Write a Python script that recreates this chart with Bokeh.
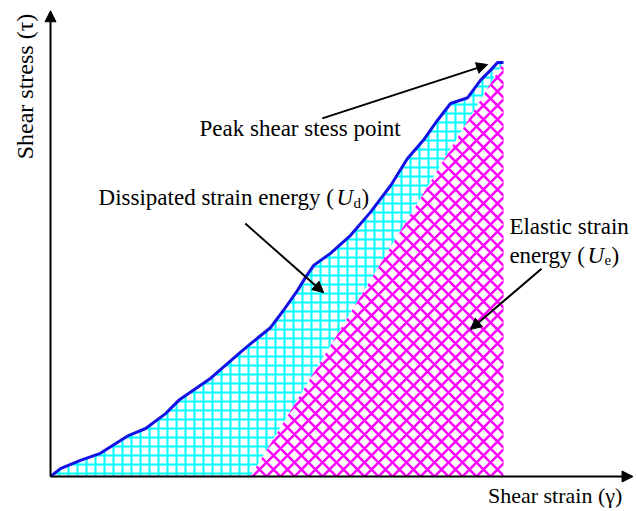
from bokeh.plotting import figure
from bokeh.models import Range1d, Label, Arrow, NormalHead
from bokeh.embed import file_html
from bokeh.resources import INLINE

# Normalised shear stress-strain curve up to the peak (strain, stress)
strain = [0.000, 0.022, 0.066, 0.110, 0.172, 0.210, 0.254, 0.283, 0.353, 0.419,
          0.442, 0.486, 0.514, 0.545, 0.563, 0.581, 0.618, 0.662, 0.706, 0.751,
          0.788, 0.823, 0.854, 0.883, 0.921, 0.949, 0.971, 0.987, 1.000]
stress = [0.000, 0.019, 0.039, 0.056, 0.099, 0.116, 0.152, 0.184, 0.237, 0.300,
          0.321, 0.360, 0.401, 0.449, 0.481, 0.510, 0.539, 0.582, 0.638, 0.703,
          0.768, 0.812, 0.860, 0.901, 0.915, 0.957, 0.981, 1.000, 1.000]

# Residual strain where the elastic unloading line meets the strain axis
unload_strain = 0.4415
peak_strain, peak_stress = strain[-1], stress[-1]

FONT = "Liberation Serif"
FS = "23px"
SUB = "15px"

p = figure(width=636, height=511, output_backend="svg", toolbar_location=None,
           x_range=Range1d(-0.1104, 1.2936), y_range=Range1d(-0.0845, 1.1498),
           min_border=0, min_border_left=0, min_border_right=0,
           min_border_top=0, min_border_bottom=0)
p.axis.visible = False
p.grid.visible = False
p.outline_line_color = None
p.background_fill_color = "white"
p.border_fill_color = "white"

# Dissipated energy: between the loading curve and the unloading line
ud_x = strain + [unload_strain]
ud_y = stress + [0.0]
p.patch(ud_x, ud_y, fill_color="white", line_color=None,
        hatch_pattern="+", hatch_color="#00ffff", hatch_scale=9, hatch_weight=2)

# Elastic energy: triangle under the unloading line
ue_x = [unload_strain, peak_strain, peak_strain]
ue_y = [0.0, peak_stress, 0.0]
p.patch(ue_x, ue_y, fill_color="white", line_color=None,
        hatch_pattern="x", hatch_color="#ff00ff", hatch_scale=14, hatch_weight=2.5)

# Loading curve
p.line(strain, stress, line_color="#1212e6", line_width=3)

# Coordinate axes with arrowheads
p.add_layout(Arrow(x_start=0, y_start=0, x_end=1.286, y_end=0, line_width=2,
                   end=NormalHead(size=11, fill_color="black", line_color="black")))
p.add_layout(Arrow(x_start=0, y_start=0, x_end=0, y_end=1.125, line_width=2,
                   end=NormalHead(size=11, fill_color="black", line_color="black")))

# Pointer arrows
def pointer(x0, y0, x1, y1):
    p.add_layout(Arrow(x_start=x0, y_start=y0, x_end=x1, y_end=y1, line_width=2,
                       end=NormalHead(size=11, fill_color="black", line_color="black")))

pointer(0.600, 0.865, 0.965, 0.995)
pointer(0.430, 0.611, 0.603, 0.444)
pointer(1.084, 0.502, 0.927, 0.355)

def label(x, y, text, dx=0, dy=0, size=FS, style="normal", **kw):
    p.add_layout(Label(x=x, y=y, x_offset=dx, y_offset=dy, text=text,
                       text_font=FONT, text_font_size=size, text_font_style=style,
                       text_color="black", text_baseline="alphabetic", **kw))

# Axis titles
label(1.114, -0.046, "Shear strain (\u03b3)", size="22px", text_align="center")
p.add_layout(Label(x=-0.0574, y=0.942, text="Shear stress (\u03c4)", angle=1.5708,
                   angle_units="rad", text_font=FONT, text_font_size="24px",
                   text_align="center", text_baseline="middle", text_color="black"))

# Annotations
label(0.329, 0.841, "Peak shear stess point")

dx0, dy0 = 0.106, 0.673
label(dx0, dy0, "Dissipated strain energy (")
label(dx0, dy0, "U", dx=238, style="italic")
label(dx0, dy0, "d", dx=255, dy=-5, size=SUB)
label(dx0, dy0, ")", dx=263)

ex0 = 1.013
label(ex0, 0.603, "Elastic strain")
label(ex0, 0.535, "energy (")
label(ex0, 0.535, "U", dx=78, style="italic")
label(ex0, 0.535, "e", dx=95, dy=-5, size=SUB)
label(ex0, 0.535, ")", dx=102)

open("out.html", "w").write(file_html(p, INLINE))
